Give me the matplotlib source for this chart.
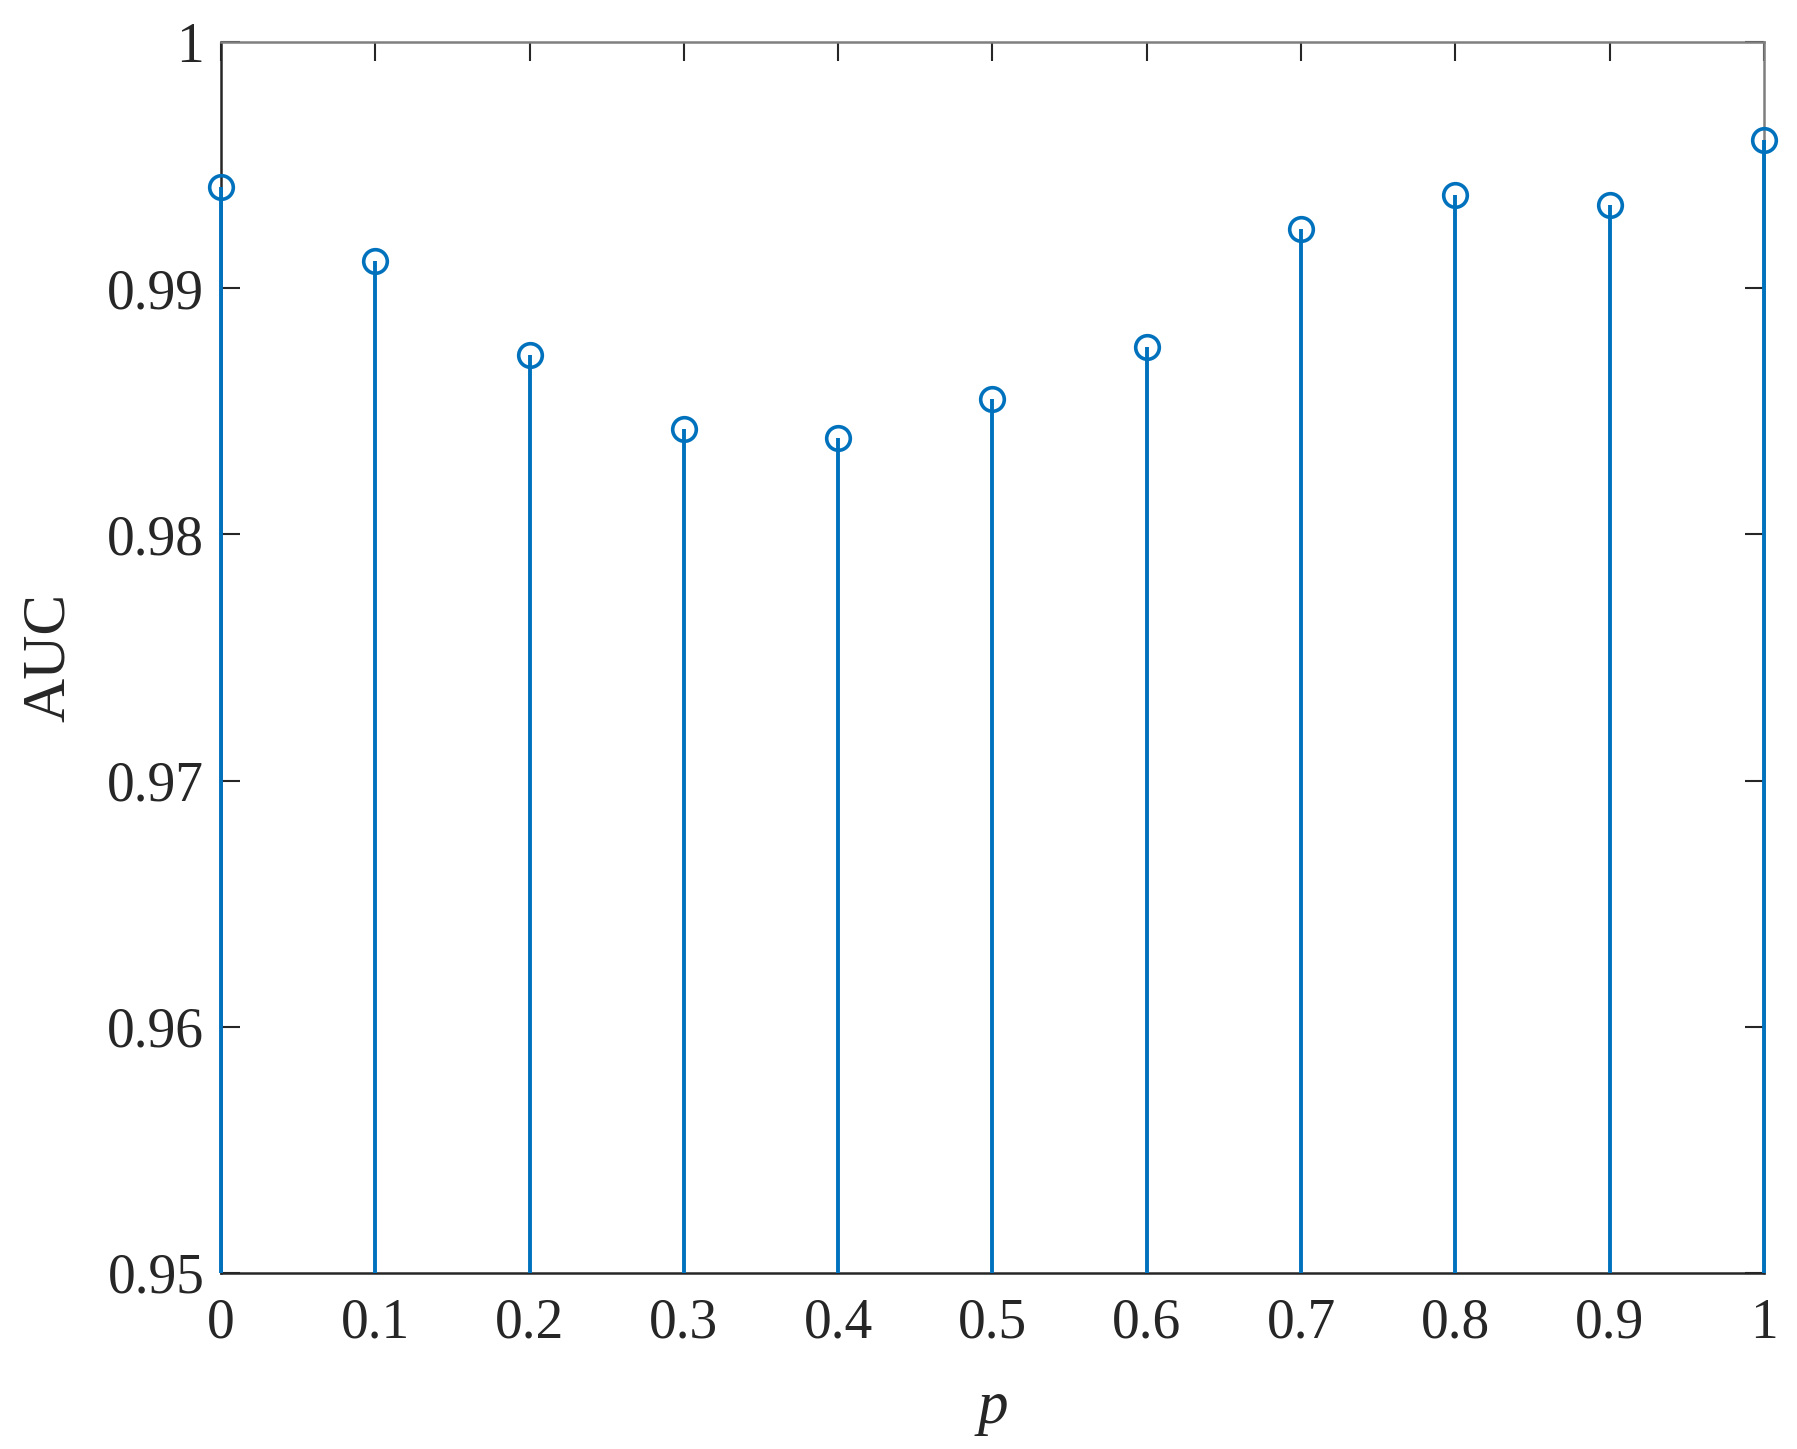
import matplotlib
matplotlib.use("Agg")
import matplotlib.pyplot as plt

p_values = [0.0, 0.1, 0.2, 0.3, 0.4, 0.5, 0.6, 0.7, 0.8, 0.9, 1.0]
auc_values = [0.9941, 0.9911, 0.9873, 0.9843, 0.9839, 0.9855, 0.9876, 0.9924, 0.9938, 0.9934, 0.9960]
x_ticks = [0, 0.1, 0.2, 0.3, 0.4, 0.5, 0.6, 0.7, 0.8, 0.9, 1]
x_ticklabels = ["0", "0.1", "0.2", "0.3", "0.4", "0.5", "0.6", "0.7", "0.8", "0.9", "1"]
y_ticks = [0.95, 0.96, 0.97, 0.98, 0.99, 1.0]
y_ticklabels = ["0.95", "0.96", "0.97", "0.98", "0.99", "1"]

plt.rcParams['font.family'] = ['Liberation Serif', 'DejaVu Serif']
blue = '#0072BD'

fig = plt.figure(figsize=(17.97, 14.49), dpi=100)
ax = fig.add_axes([0.123, 0.1215, 0.8586, 0.8495])

markerline, stemlines, baseline = ax.stem(p_values, auc_values, bottom=0.95, basefmt=' ')
plt.setp(stemlines, color=blue, linewidth=2.8, zorder=4, clip_on=False)
plt.setp(markerline, color=blue, marker='o', markersize=17, markerfacecolor='none',
         markeredgewidth=2.6, clip_on=False, zorder=5)

ax.set_xlim(0, 1)
ax.set_ylim(0.95, 1.0)
ax.set_xticks(x_ticks)
ax.set_xticklabels(x_ticklabels)
ax.set_yticks(y_ticks)
ax.set_yticklabels(y_ticklabels)

ax.tick_params(direction='in', length=14, width=1.5, labelsize=40, colors='#262626',
               top=True, right=True, pad=12)
ax.tick_params(axis='x', pad=18)
for s in ['left', 'bottom']:
    ax.spines[s].set_color('#262626')
    ax.spines[s].set_linewidth(1.8)
for s in ['top', 'right']:
    ax.spines[s].set_color('#7f7f7f')
    ax.spines[s].set_linewidth(1.8)

ax.set_xlabel('p', fontsize=44, style='italic', labelpad=22, color='#262626')
ax.set_ylabel('AUC', fontsize=44, labelpad=22, color='#262626')

fig.savefig('out.png', dpi=100)
